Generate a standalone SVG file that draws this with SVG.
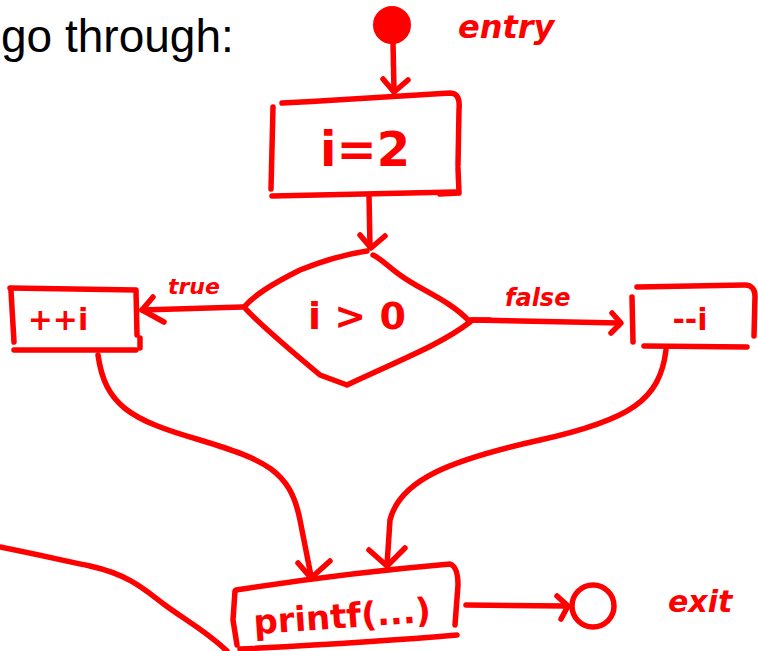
<svg xmlns="http://www.w3.org/2000/svg" width="758" height="651" viewBox="0 0 758 651">
  <style>
    .ink { fill: none; stroke: #ff0000; stroke-width: 5.5; stroke-linecap: round; stroke-linejoin: round; }
    .lbl { fill: #ff0000; font-family: "DejaVu Sans", "Liberation Sans", sans-serif; font-weight: bold; }
    .head { font-family: "Liberation Sans", Arial, sans-serif; fill: #000000; }
  </style>
  <rect width="758" height="651" fill="#ffffff"/>

  <text class="head" x="1" y="52" font-size="46">go through:</text>

  <g id="connectors">
    <!-- entry to i=2 -->
    <path class="ink" d="M393 42 L394 90"/>
    <path class="ink" d="M383 79 L394 92 L408 80"/>
    <!-- i=2 to condition -->
    <path class="ink" d="M369 195 L370 247"/>
    <path class="ink" d="M360 235 L371 248 L385 236"/>
    <!-- true branch -->
    <path class="ink" d="M242 307 L142 310"/>
    <path class="ink" d="M153 297 L142 310 L164 322"/>
    <!-- false branch -->
    <path class="ink" d="M472 320 L620 323"/>
    <path class="ink" d="M612 313 L621 323 L611 333"/>
    <!-- increment to printf -->
    <path class="ink" d="M98 355 C105 405 130 420 200 440 C265 460 290 470 300 520 L311 576"/>
    <path class="ink" d="M298 563 L311 578 L330 561"/>
    <!-- decrement to printf -->
    <path class="ink" d="M666 350 C660 400 630 420 540 440 C450 460 400 480 390 520 L387 565"/>
    <path class="ink" d="M369 550 L387 566 L405 548"/>
    <!-- printf to exit -->
    <path class="ink" d="M466 605 L566 606"/>
    <path class="ink" d="M557 596 L568 606 L561 619"/>
    <!-- stroke running in from the left edge -->
    <path class="ink" d="M0 547 C40 555 70 562 90 566 C130 575 145 590 165 605 C185 620 205 630 227 651"/>
  </g>

  <g id="entry">
    <circle cx="392" cy="25" r="18" fill="#ff0000" stroke="#ff0000" stroke-width="2"/>
    <text class="lbl" x="458" y="38" font-size="32" font-style="italic">entry</text>
  </g>

  <g id="init">
    <path class="ink" d="M282 103 C340 100 400 96 450 93 C458 93 460 100 459 110 L458 165 M458 168 L459 193 L440 194"/>
    <path class="ink" d="M273 107 L271 189"/>
    <path class="ink" d="M272 196 L455 192"/>
    <text class="lbl" x="365" y="166" font-size="48" text-anchor="middle">i=2</text>
  </g>

  <g id="cond">
    <path class="ink" d="M367 251 C340 255 320 262 300 270 C270 285 255 295 244 307 C260 325 290 350 320 375 L347 385 C400 360 440 345 470 322 C450 300 420 290 400 275 C390 268 380 258 373 255"/>
    <path class="ink" d="M470 320 L490 320"/>
    <text class="lbl" x="357" y="329" font-size="38" text-anchor="middle">i &gt; 0</text>
  </g>

  <g id="inc">
    <path class="ink" d="M10 288 L136 290 L137 335"/>
    <path class="ink" d="M11 291 L14 342"/>
    <path class="ink" d="M14 350 L136 350"/>
    <path class="ink" d="M140 338 L140 348"/>
    <text class="lbl" x="168" y="294" font-size="22" font-style="italic">true</text>
    <text class="lbl" x="58" y="330" font-size="30" text-anchor="middle">++i</text>
  </g>

  <g id="dec">
    <path class="ink" d="M637 287 L745 285 C752 285 755 290 755 296 L754 336"/>
    <path class="ink" d="M632 297 L633 342"/>
    <path class="ink" d="M644 346 L747 347"/>
    <text class="lbl" x="505" y="306" font-size="24" font-style="italic">false</text>
    <text class="lbl" x="690" y="330" font-size="30" text-anchor="middle">--i</text>
  </g>

  <g id="print">
    <path class="ink" d="M236 590 C300 580 380 570 450 564 C456 566 458 575 458 585 L455 625"/>
    <path class="ink" d="M235 591 L233 620 L237 645"/>
    <path class="ink" d="M240 649 C320 645 400 640 457 635"/>
    <text class="lbl" x="342" y="628" font-size="34" text-anchor="middle" transform="rotate(-4 342 616)">printf(...)</text>
  </g>

  <g id="exit">
    <circle class="ink" cx="593" cy="606" r="21"/>
    <text class="lbl" x="668" y="612" font-size="30" font-style="italic">exit</text>
  </g>
</svg>
